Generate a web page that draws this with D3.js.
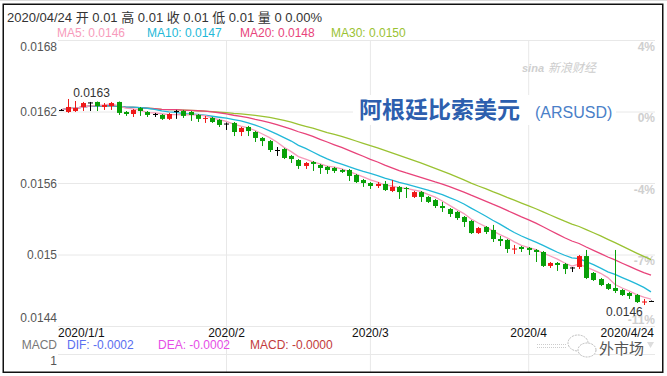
<!DOCTYPE html>
<html><head><meta charset="utf-8">
<script src="https://cdn.jsdelivr.net/npm/d3@7"></script>
<style>
html,body{margin:0;padding:0;background:#fff;}
svg{display:block;font-family:"Liberation Sans","Noto Sans CJK SC",Arial,sans-serif;}
</style></head><body>
<svg id="c" width="667" height="376"></svg>
<script>
// ---------- DATA ----------
const dates = [
"2020-01-01","2020-01-02","2020-01-03","2020-01-06","2020-01-07","2020-01-08","2020-01-09","2020-01-10",
"2020-01-13","2020-01-14","2020-01-15","2020-01-16","2020-01-17","2020-01-20","2020-01-21","2020-01-22",
"2020-01-23","2020-01-24","2020-01-27","2020-01-28","2020-01-29","2020-01-30","2020-01-31",
"2020-02-03","2020-02-04","2020-02-05","2020-02-06","2020-02-07","2020-02-10","2020-02-11","2020-02-12",
"2020-02-13","2020-02-14","2020-02-17","2020-02-18","2020-02-19","2020-02-20","2020-02-21","2020-02-24",
"2020-02-25","2020-02-26","2020-02-27","2020-02-28",
"2020-03-02","2020-03-03","2020-03-04","2020-03-05","2020-03-06","2020-03-09","2020-03-10","2020-03-11",
"2020-03-12","2020-03-13","2020-03-16","2020-03-17","2020-03-18","2020-03-19","2020-03-20","2020-03-23",
"2020-03-24","2020-03-25","2020-03-26","2020-03-27","2020-03-30","2020-03-31",
"2020-04-01","2020-04-02","2020-04-03","2020-04-06","2020-04-07","2020-04-08","2020-04-09","2020-04-10",
"2020-04-13","2020-04-14","2020-04-15","2020-04-16","2020-04-17","2020-04-20","2020-04-21","2020-04-22",
"2020-04-23","2020-04-24"];

const open = [
0.016213,0.016196,0.016204,0.016238,0.016276,0.016280,0.016238,0.016246,0.016280,0.016196,
0.016179,0.016229,0.016196,0.016179,0.016171,0.016138,0.016204,0.016204,0.016196,0.016171,
0.016138,0.016146,0.016129,0.016099,0.016104,0.016028,0.016070,0.016028,0.015978,0.015952,
0.015877,0.015885,0.015827,0.015793,0.015743,0.015776,0.015751,0.015735,0.015726,0.015709,
0.015709,0.015667,0.015625,0.015600,0.015575,0.015592,0.015533,0.015567,0.015558,0.015483,
0.015524,0.015483,0.015457,0.015407,0.015382,0.015357,0.015315,0.015281,0.015180,0.015231,
0.015206,0.015130,0.015122,0.015042,0.015063,0.015055,0.015038,0.015021,0.014904,0.014929,
0.014920,0.014891,0.014895,0.014987,0.014845,0.014794,0.014752,0.014719,0.014702,0.014677,
0.014660,0.014597,0.014610];
const high = [
0.016221,0.016305,0.016288,0.016280,0.016280,0.016284,0.016271,0.016280,0.016284,0.016204,
0.016221,0.016238,0.016204,0.016188,0.016179,0.016188,0.016213,0.016213,0.016204,0.016179,
0.016163,0.016154,0.016138,0.016108,0.016112,0.016070,0.016079,0.016036,0.015986,0.015961,
0.015902,0.015894,0.015835,0.015801,0.015776,0.015785,0.015760,0.015743,0.015735,0.015718,
0.015718,0.015676,0.015634,0.015608,0.015608,0.015617,0.015625,0.015575,0.015567,0.015533,
0.015533,0.015491,0.015466,0.015441,0.015390,0.015365,0.015323,0.015290,0.015231,0.015239,
0.015248,0.015155,0.015130,0.015080,0.015071,0.015063,0.015046,0.015029,0.014937,0.014937,
0.014929,0.014895,0.014996,0.015038,0.014853,0.014803,0.014761,0.015038,0.014711,0.014685,
0.014669,0.014627,0.014614];
const low = [
0.016204,0.016188,0.016196,0.016204,0.016204,0.016204,0.016213,0.016213,0.016171,0.016163,
0.016154,0.016163,0.016154,0.016154,0.016129,0.016129,0.016138,0.016146,0.016121,0.016112,
0.016104,0.016104,0.016070,0.016045,0.015994,0.015994,0.015994,0.015944,0.015910,0.015860,
0.015827,0.015801,0.015768,0.015718,0.015718,0.015701,0.015676,0.015676,0.015684,0.015684,
0.015617,0.015600,0.015567,0.015550,0.015558,0.015533,0.015524,0.015466,0.015474,0.015474,
0.015441,0.015432,0.015390,0.015357,0.015315,0.015290,0.015231,0.015172,0.015172,0.015172,
0.015105,0.015071,0.015013,0.015004,0.015021,0.014996,0.014937,0.014895,0.014887,0.014862,
0.014836,0.014853,0.014878,0.014794,0.014778,0.014735,0.014702,0.014677,0.014652,0.014627,
0.014593,0.014576,0.014606];
const close = [
0.016213,0.016238,0.016229,0.016271,0.016276,0.016246,0.016255,0.016271,0.016188,0.016179,
0.016213,0.016204,0.016171,0.016179,0.016138,0.016179,0.016204,0.016163,0.016171,0.016138,
0.016146,0.016112,0.016087,0.016099,0.016028,0.016062,0.016036,0.015978,0.015952,0.015877,
0.015877,0.015810,0.015801,0.015743,0.015768,0.015760,0.015726,0.015709,0.015701,0.015693,
0.015659,0.015608,0.015600,0.015575,0.015592,0.015541,0.015567,0.015524,0.015550,0.015524,
0.015483,0.015441,0.015407,0.015390,0.015340,0.015306,0.015273,0.015180,0.015222,0.015189,
0.015130,0.015113,0.015046,0.015050,0.015046,0.015038,0.015021,0.014904,0.014929,0.014912,
0.014878,0.014891,0.014987,0.014803,0.014786,0.014744,0.014711,0.014694,0.014660,0.014652,
0.014601,0.014606,0.014610];

const yTicks = [0.0144, 0.015, 0.0156, 0.0162, 0.0168];
const yTickLabels = ["0.0144", "0.015", "0.0156", "0.0162", "0.0168"];
const pctLabels = ["-11%", "-7%", "-4%", "0%", "4%"];
const monthTicks = ["2020-02-03", "2020-03-02", "2020-04-01"];
const monthLabels = ["2020/2", "2020/3", "2020/4"];
const firstDateLabel = "2020/1/1";
const lastDateLabel = "2020/4/24";
const maPeriods = [5, 10, 20, 30];
const maColors = ["#f79bbb", "#22b8d8", "#e8437a", "#9ac232"];
const headerText = "2020/04/24 开 0.01 高 0.01 收 0.01 低 0.01 量 0 0.00%";
const macdNames = ["DIF: -0.0002", "DEA: -0.0002", "MACD: -0.0000"];
const macdColors = ["#5a6ef0", "#e64ce6", "#c23b3b"];
const titleCN = "阿根廷比索美元";
const titleEN = "(ARSUSD)";

// ---------- CHART ----------
(function () {
const svg = d3.select("#c");
const W = 667;
const gridLeft = 58, gridRight = 655, plotTop = 40, plotBottom = 326;
const x = d3.scalePoint().domain(dates).range([61, 651]);
const y = d3.scaleLinear().domain([0.0144, 0.0168]).range([plotBottom, plotTop]);
const clamp = (v, a, b) => Math.max(a, Math.min(b, v));

svg.append("line").attr("x1", 0).attr("x2", W).attr("y1", 0.5).attr("y2", 0.5).attr("stroke", "#dcdcdc");

const gy = svg.append("g").attr("transform", `translate(${gridLeft},0)`)
  .call(d3.axisLeft(y).tickValues(yTicks).tickSize(-(gridRight - gridLeft))
    .tickFormat((d, i) => yTickLabels[i]).tickPadding(1));
gy.select(".domain").remove();
gy.selectAll(".tick line").attr("stroke", "#e8e8e8");
gy.selectAll(".tick text").attr("font-size", 12).attr("fill", "#555")
  .attr("font-family", "Liberation Sans, Arial, sans-serif")
  .attr("dy", null).attr("dominant-baseline", "central")
  .attr("y", d => clamp(y(d), plotTop + 6, plotBottom - 9) - y(d));

svg.append("g").selectAll("text").data(yTicks).join("text")
  .attr("x", gridRight).attr("y", d => clamp(y(d) + 6.5, plotTop + 6, plotBottom - 6))
  .attr("text-anchor", "end").attr("dominant-baseline", "central")
  .attr("font-size", 12).attr("font-weight", "bold").attr("fill", "#cfcfcf")
  .text((d, i) => pctLabels[i]);

svg.append("g").selectAll("line").data(monthTicks).join("line")
  .attr("x1", d => x(d)).attr("x2", d => x(d)).attr("y1", plotTop).attr("y2", 372)
  .attr("stroke", "#e8e8e8");

svg.append("line").attr("x1", gridLeft).attr("x2", gridRight).attr("y1", 354.5).attr("y2", 354.5).attr("stroke", "#e8e8e8");

svg.append("rect").attr("x", 353).attr("y", 95).attr("width", 263).attr("height", 30).attr("fill", "#fff");
svg.append("text").attr("x", 359).attr("y", 108).attr("dominant-baseline", "central")
  .attr("font-family", "Noto Sans CJK SC").attr("font-weight", "bold").attr("font-size", 23)
  .attr("fill", "#2d5fae").text(titleCN);
svg.append("text").attr("x", 535).attr("y", 112).attr("dominant-baseline", "central")
  .attr("font-size", 16).attr("fill", "#4a80c8").text(titleEN);

svg.append("text").attr("x", 522).attr("y", 72).attr("font-size", 11).attr("font-style", "italic")
  .attr("font-weight", "bold").attr("fill", "#cfcfcf").text("sina");
svg.append("text").attr("x", 548).attr("y", 72).attr("font-size", 12).attr("font-style", "italic")
  .attr("font-family", "Noto Sans CJK SC").attr("fill", "#cdcdcd").text("新浪财经");

const mas = maPeriods.map(n => close.map((c, i) => d3.mean(close.slice(Math.max(0, i - n + 1), i + 1))));
const line = d3.line().x((d, i) => x(dates[i])).y(d => y(d));
svg.append("g").selectAll("path").data(mas.slice().reverse()).join("path")
  .attr("d", line).attr("fill", "none")
  .attr("stroke", (d, i) => maColors[maColors.length - 1 - i]).attr("stroke-width", 1.3);

const data = dates.map((d, i) => ({d, o: open[i], h: high[i], l: low[i], c: close[i]}));
const col = k => k.c > k.o ? "#f01818" : (k.c < k.o ? "#08a008" : "#000");
const cg = svg.append("g").selectAll("g").data(data).join("g");
cg.append("line")
  .attr("x1", k => Math.round(x(k.d)) + 0.5).attr("x2", k => Math.round(x(k.d)) + 0.5)
  .attr("y1", k => y(k.h)).attr("y2", k => y(k.l)).attr("stroke", col).attr("stroke-width", 1);
cg.append("rect")
  .attr("x", k => Math.round(x(k.d)) - 2).attr("width", 5)
  .attr("y", k => y(Math.max(k.o, k.c)))
  .attr("height", k => Math.max(1, y(Math.min(k.o, k.c)) - y(Math.max(k.o, k.c))))
  .attr("fill", col);

const iMax = d3.maxIndex(high), iMin = d3.minIndex(low);
svg.append("text").attr("x", x(dates[iMax]) + 5).attr("y", y(high[iMax]) - 2)
  .attr("font-size", 12).attr("fill", "#333").text(d3.format(".4f")(high[iMax]));
svg.append("text").attr("x", x(dates[iMin]) - 1).attr("y", y(low[iMin]) + 11)
  .attr("text-anchor", "end").attr("font-size", 12).attr("fill", "#333").text(d3.format(".4f")(low[iMin]));

const dl = svg.append("g").attr("font-size", 12).attr("fill", "#111");
dl.append("text").attr("x", x(dates[0]) - 3).attr("y", 333).attr("dominant-baseline", "central").text(firstDateLabel);
dl.selectAll(".m").data(monthTicks).join("text").attr("class", "m")
  .attr("x", d => x(d)).attr("y", 333).attr("text-anchor", "middle").attr("dominant-baseline", "central")
  .text((d, i) => monthLabels[i]);
dl.append("text").attr("x", x(dates[dates.length - 1]) + 3).attr("y", 333).attr("text-anchor", "end")
  .attr("dominant-baseline", "central").text(lastDateLabel);

svg.append("text").attr("x", 7).attr("y", 17).attr("dominant-baseline", "central")
  .attr("font-size", 13).attr("fill", "#333").text(headerText);
const maX = [57, 147, 240, 331];
svg.append("g").selectAll("text").data(maPeriods).join("text")
  .attr("x", (d, i) => maX[i]).attr("y", 32.5).attr("dominant-baseline", "central")
  .attr("font-size", 12).attr("fill", (d, i) => maColors[i])
  .text((d, i) => `MA${d}: ${d3.format(".4f")(mas[i][mas[i].length - 1])}`);

svg.append("text").attr("x", 57).attr("y", 345).attr("text-anchor", "end").attr("dominant-baseline", "central")
  .attr("font-size", 12).attr("fill", "#777").text("MACD");
const mX = [67, 158, 250];
svg.append("g").selectAll("text").data(macdNames).join("text")
  .attr("x", (d, i) => mX[i]).attr("y", 345).attr("dominant-baseline", "central")
  .attr("font-size", 12).attr("fill", (d, i) => macdColors[i]).text(d => d);
svg.append("text").attr("x", 57).attr("y", 361).attr("text-anchor", "end").attr("dominant-baseline", "central")
  .attr("font-size", 12).attr("fill", "#555").text("1");

const wm = svg.append("g");
wm.append("line").attr("x1", 537).attr("x2", 566).attr("y1", 344.5).attr("y2", 344.5).attr("stroke", "#ccc").attr("stroke-dasharray", "1,1");
wm.append("line").attr("x1", 537).attr("x2", 566).attr("y1", 347.5).attr("y2", 347.5).attr("stroke", "#ccc").attr("stroke-dasharray", "1,1");
wm.append("ellipse").attr("cx", 578).attr("cy", 343).attr("rx", 10).attr("ry", 8).attr("fill", "none").attr("stroke", "#bbb").attr("stroke-dasharray", "2,1");
wm.append("ellipse").attr("cx", 587).attr("cy", 350).attr("rx", 9).attr("ry", 7).attr("fill", "#fff").attr("stroke", "#bbb").attr("stroke-dasharray", "2,1");
wm.append("text").attr("x", 599).attr("y", 347).attr("dominant-baseline", "central")
  .attr("font-family", "Noto Sans CJK SC").attr("font-size", 15).attr("fill", "#555").text("外市场");
wm.append("path").attr("d", "M647,342 L654,342 L650.5,348 Z").attr("fill", "#ddd");

svg.append("rect").attr("x", 3.25).attr("y", 4.25).attr("width", 659.5).attr("height", 368)
  .attr("fill", "none").attr("stroke", "#111").attr("stroke-width", 1.5);
})();
</script>
</body></html>
